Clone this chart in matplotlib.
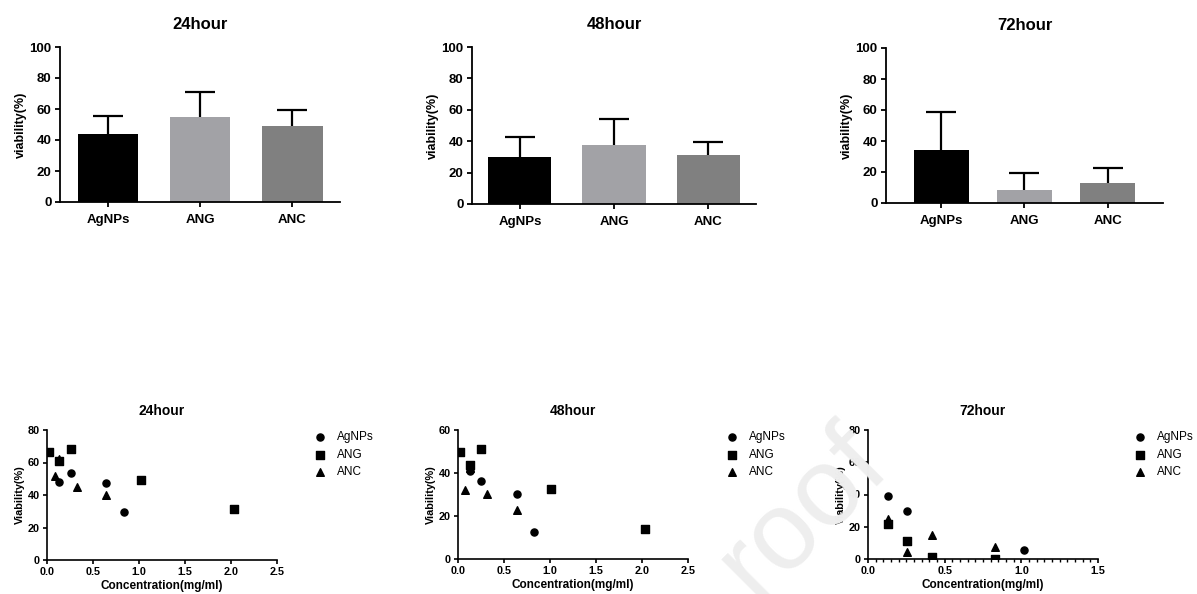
import matplotlib
matplotlib.use("Agg")
import matplotlib.pyplot as plt
from matplotlib.ticker import MultipleLocator, FormatStrFormatter
import numpy as np

plt.rcParams['font.family'] = ['Liberation Sans', 'DejaVu Sans']

groups = ['AgNPs', 'ANG', 'ANC']
bar_colors = ['#000000', '#a2a2a6', '#808080']
hours = ['24hour', '48hour', '72hour']

# bar means and upper SD, per time point
bar_mean = {
    '24hour': [44.1, 55.1, 49.2],
    '48hour': [29.8, 37.8, 31.5],
    '72hour': [34.3, 8.4, 13.1],
}
bar_sd = {
    '24hour': [11.2, 15.9, 10.2],
    '48hour': [12.7, 16.1, 8.2],
    '72hour': [24.5, 10.7, 9.2],
}

# scatter: concentration (mg/ml) vs viability (%)
agnps_x = {'24hour': [0.126, 0.256, 0.643, 0.834],
           '48hour': [0.127, 0.25, 0.64, 0.83],
           '72hour': [0.128, 0.254, 1.017]}
agnps_y = {'24hour': [47.8, 53.5, 47.4, 29.3],
           '48hour': [40.7, 36.5, 30.2, 12.4],
           '72hour': [38.8, 29.8, 5.5]}
ang_x = {'24hour': [0.02, 0.134, 0.26, 1.02, 2.03],
         '48hour': [0.02, 0.127, 0.246, 1.01, 2.03],
         '72hour': [0.128, 0.254, 0.417, 0.83]}
ang_y = {'24hour': [66.5, 61.0, 68.3, 49.4, 31.4],
         '48hour': [50.0, 43.8, 51.3, 32.6, 14.1],
         '72hour': [21.8, 11.2, 1.0, 0.2]}
anc_x = {'24hour': [0.083, 0.13, 0.325, 0.643],
         '48hour': [0.08, 0.127, 0.32, 0.64],
         '72hour': [0.128, 0.254, 0.417, 0.83]}
anc_y = {'24hour': [51.7, 62.4, 44.9, 39.8],
         '48hour': [32.3, 42.5, 30.3, 22.6],
         '72hour': [24.9, 4.3, 15.1, 7.3]}

sc_xmax = {'24hour': 2.5, '48hour': 2.5, '72hour': 1.5}
sc_ymax = {'24hour': 80, '48hour': 60, '72hour': 80}

W, H = 1197, 594
fig = plt.figure(figsize=(W / 100, H / 100), dpi=100)


def px_axes(x0, x1, ytop, ybot):
    return fig.add_axes([x0 / W, 1 - ybot / H, (x1 - x0) / W, (ybot - ytop) / H])


def style(ax, lw, tl):
    ax.spines['top'].set_visible(False)
    ax.spines['right'].set_visible(False)
    ax.spines['left'].set_linewidth(lw)
    ax.spines['bottom'].set_linewidth(lw)
    ax.tick_params(width=lw, length=tl, direction='out')


# --- bar charts (top row)
bar_boxes = [(60, 340, 47, 202, 0.52, 0.66), (472, 756, 47, 204, 0.51, 0.67),
             (886, 1163, 48, 203, 0.66, 0.66)]
for h, (x0, x1, yt, yb, pad, bw) in zip(hours, bar_boxes):
    ax = px_axes(x0, x1, yt, yb)
    pos = np.arange(len(groups))
    ax.bar(pos, bar_mean[h], width=bw, color=bar_colors, zorder=2)
    eb = ax.errorbar(pos, bar_mean[h], yerr=[np.zeros(3), bar_sd[h]], fmt='none',
                     ecolor='black', elinewidth=1.6, capsize=10.5, capthick=1.6, zorder=1)
    eb[1][0].set_visible(False)  # no lower cap
    ax.set_xlim(-pad, 2 + pad)
    ax.set_ylim(0, 100)
    ax.set_yticks([0, 20, 40, 60, 80, 100])
    ax.set_xticks(pos)
    ax.set_xticklabels(groups)
    style(ax, 1.3, 3.5)
    for lab in ax.get_xticklabels() + ax.get_yticklabels():
        lab.set_fontsize(9.5)
        lab.set_fontweight('bold')
    ax.tick_params(axis='y', pad=2.5)
    ax.tick_params(axis='x', pad=5)
    ax.set_ylabel('viability(%)', fontsize=9, fontweight='bold', labelpad=2)
    ax.set_title(h, fontsize=12, fontweight='bold', pad=13)

# --- scatter plots (bottom row)
sc_boxes = [(47, 277, 430, 560, 320), (458, 688, 430, 559, 732),
            (868, 1098, 430, 559, 1140)]
for h, (x0, x1, yt, yb, lx) in zip(hours, sc_boxes):
    ax = px_axes(x0, x1, yt, yb)
    ax.scatter(agnps_x[h], agnps_y[h], marker='o', s=26, color='black', label='AgNPs', zorder=3)
    ax.scatter(ang_x[h], ang_y[h], marker='s', s=30, color='black', label='ANG', zorder=3)
    ax.scatter(anc_x[h], anc_y[h], marker='^', s=30, color='black', label='ANC', zorder=3)
    ax.set_xlim(0, sc_xmax[h])
    ax.set_ylim(0, sc_ymax[h])
    ax.xaxis.set_major_locator(MultipleLocator(0.5))
    ax.yaxis.set_major_locator(MultipleLocator(20))
    ax.xaxis.set_major_formatter(FormatStrFormatter('%.1f'))
    if h == '72hour':
        ax.xaxis.set_minor_locator(MultipleLocator(0.05))
        ax.tick_params(axis='x', which='minor', length=2, width=1)
    style(ax, 1.2, 3)
    for lab in ax.get_xticklabels() + ax.get_yticklabels():
        lab.set_fontsize(7.8)
        lab.set_fontweight('bold')
    ax.tick_params(pad=2)
    ax.set_xlabel('Concentration(mg/ml)', fontsize=8.5, fontweight='bold', labelpad=2)
    ax.set_ylabel('Viability(%)', fontsize=7.8, fontweight='bold', labelpad=2)
    ax.set_title(h, fontsize=10, fontweight='bold', pad=11)
    fig.legend(loc='upper left', bbox_to_anchor=((lx - 7) / W, 1 - 431 / H),
               handles=ax.get_legend_handles_labels()[0], frameon=False,
               fontsize=8.5, handletextpad=0.85, labelspacing=0.48, borderaxespad=0,
               handlelength=1.2, borderpad=0)

# watermark fragment
fig.text(823 / W, 1 - 534 / H, 'roof', fontsize=80, color='#eeeeee', rotation=45,
         ha='center', va='baseline', rotation_mode='anchor', zorder=10)

fig.savefig('out.png', dpi=100)
